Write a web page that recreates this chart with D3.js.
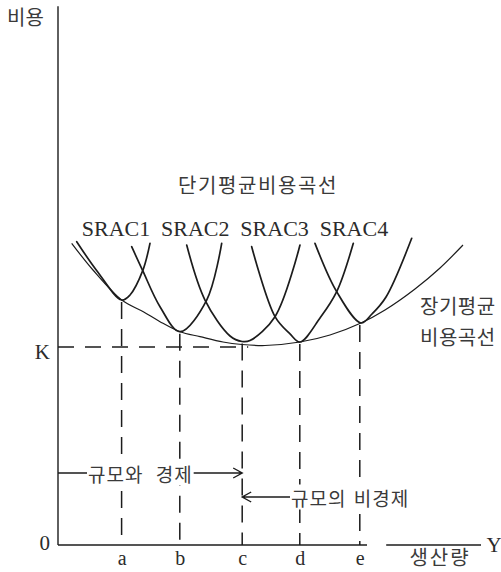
<!DOCTYPE html>
<html><head><meta charset="utf-8">
<script src="https://cdn.jsdelivr.net/npm/d3@7"></script>
<style>
html,body{margin:0;padding:0;background:#fff;}
svg{display:block;}
</style></head><body>
<svg id="chart" width="501" height="572"></svg>
<script>
// Plant sizes marked on the output axis
const outputLabels = ["a", "b", "c", "d", "e"];
const outputLevels = [1.06, 2.03, 3.07, 4.03, 5.03];
// Average cost where each short-run curve touches the envelope
const tangentCosts = [4.083, 3.555, 3.392, 3.383, 3.700];

// Minimum long-run average cost
const minCost = 3.30;
const costTicks = [0, minCost];
const costTickLabels = ["0", "K"];

// Long-run average cost (envelope curve)
const lracOutput = [0.228, 0.583, 1.062, 1.422, 1.700, 2.033, 2.367, 2.750, 3.067, 3.450, 4.033, 4.533, 5.050, 5.450, 5.950, 6.367, 6.750];
const lracCost   = [5.028, 4.583, 4.083, 3.888, 3.722, 3.555, 3.472, 3.383, 3.342, 3.325, 3.383, 3.500, 3.700, 3.917, 4.267, 4.617, 5.000];

// Short-run average cost curves, one per plant size
const srac1Output = [0.312, 0.650, 1.062, 1.200, 1.412, 1.533];
const srac1Cost   = [5.055, 4.567, 4.083, 4.167, 4.572, 5.028];
const srac2Output = [1.228, 1.412, 1.700, 2.033, 2.478, 2.728];
const srac2Cost   = [4.972, 4.572, 3.972, 3.555, 4.083, 5.028];
const srac3Output = [2.145, 2.450, 2.867, 3.067, 3.200, 3.617, 4.033];
const srac3Cost   = [5.000, 4.083, 3.483, 3.392, 3.408, 3.805, 5.000];
const srac4Output = [3.228, 3.617, 3.867, 4.033, 4.367, 4.645, 4.922];
const srac4Cost   = [4.972, 3.805, 3.517, 3.383, 3.783, 4.222, 5.028];
const srac5Output = [4.283, 4.645, 5.050, 5.233, 5.467, 5.895];
const srac5Cost   = [5.028, 4.222, 3.700, 3.850, 4.133, 5.112];

const sracLabels = ["SRAC1", "SRAC2", "SRAC3", "SRAC4"];

const svg = d3.select("#chart");
const ink = "#1c1c1c";
const textInk = "#2b2b2b";
const hangulInk = "#3a3a3a";
const hangul = "'Noto Sans CJK KR', 'Noto Sans', sans-serif";
const serif = "'Liberation Serif', 'DejaVu Serif', serif";

const x = d3.scaleLinear().domain([0, 7]).range([58, 478]);
const y = d3.scaleLinear().domain([0, 9]).range([545, 5]);

const zip = (qs, cs) => qs.map((q, i) => [q, cs[i]]);
const line = d3.line()
  .x(d => x(d[0]))
  .y(d => y(d[1]))
  .curve(d3.curveCatmullRom.alpha(0.5));

// Axes
svg.append("line")
  .attr("x1", x(0)).attr("y1", y(8.98)).attr("x2", x(0)).attr("y2", y(0))
  .attr("stroke", ink).attr("stroke-width", 1.4);
svg.append("line")
  .attr("x1", x(0)).attr("y1", y(0)).attr("x2", x(5.15)).attr("y2", y(0))
  .attr("stroke", ink).attr("stroke-width", 1.4);
svg.append("line")
  .attr("x1", x(5.47)).attr("y1", y(0)).attr("x2", x(7.05)).attr("y2", y(0))
  .attr("stroke", ink).attr("stroke-width", 1.4);

const xAxis = svg.append("g")
  .attr("transform", `translate(0,${y(0)})`)
  .call(d3.axisBottom(x).tickValues(outputLevels)
    .tickFormat((d, i) => outputLabels[i]).tickSize(0).tickPadding(6));
xAxis.select(".domain").remove();
xAxis.selectAll("text")
  .attr("font-family", serif).attr("font-size", 20).attr("fill", textInk);

const yAxis = svg.append("g")
  .attr("transform", `translate(${x(0)},0)`)
  .call(d3.axisLeft(y).tickValues(costTicks)
    .tickFormat((d, i) => costTickLabels[i]).tickSize(0).tickPadding(8));
yAxis.select(".domain").remove();
yAxis.selectAll("text")
  .attr("font-family", serif).attr("font-size", 21).attr("fill", textInk)
  .attr("dy", (d, i) => i === 0 ? "0.22em" : "0.55em");

// Dashed guides: minimum cost level and the plant sizes
svg.append("line")
  .attr("x1", x(0)).attr("y1", y(minCost))
  .attr("x2", x(outputLevels[2]) + 6).attr("y2", y(minCost))
  .attr("stroke", ink).attr("stroke-width", 1.5)
  .attr("stroke-dasharray", "16,11");

svg.append("g").selectAll("line")
  .data(outputLevels)
  .join("line")
  .attr("x1", d => x(d)).attr("x2", d => x(d))
  .attr("y1", (d, i) => y(tangentCosts[i]) + 2)
  .attr("y2", y(0))
  .attr("stroke", ink).attr("stroke-width", 1.5)
  .attr("stroke-dasharray", "17,10");

// Long-run envelope
svg.append("path")
  .attr("d", line(zip(lracOutput, lracCost)))
  .attr("fill", "none").attr("stroke", ink).attr("stroke-width", 1.2);

// Short-run curves
const sracs = [
  zip(srac1Output, srac1Cost),
  zip(srac2Output, srac2Cost),
  zip(srac3Output, srac3Cost),
  zip(srac4Output, srac4Cost),
  zip(srac5Output, srac5Cost)
];
svg.append("g").selectAll("path")
  .data(sracs)
  .join("path")
  .attr("d", d => line(d))
  .attr("fill", "none").attr("stroke", ink).attr("stroke-width", 1.7)
  .attr("stroke-linecap", "round");

// Curve labels
svg.append("g").selectAll("text")
  .data(sracLabels)
  .join("text")
  .attr("x", (d, i) => 116 + i * 79.3)
  .attr("y", 236)
  .attr("text-anchor", "middle")
  .attr("font-family", serif).attr("font-size", 22).attr("fill", textInk)
  .text(d => d);

svg.append("text")
  .attr("x", 258).attr("y", 193)
  .attr("text-anchor", "middle")
  .attr("font-family", hangul).attr("font-size", 20).attr("fill", hangulInk)
  .attr("letter-spacing", 1.6)
  .text("단기평균비용곡선");

svg.append("text")
  .attr("x", 420).attr("y", 314)
  .attr("font-family", hangul).attr("font-size", 20).attr("fill", hangulInk)
  .attr("letter-spacing", 0.5)
  .text("장기평균");
svg.append("text")
  .attr("x", 420).attr("y", 345)
  .attr("font-family", hangul).attr("font-size", 20).attr("fill", hangulInk)
  .attr("letter-spacing", 0.5)
  .text("비용곡선");

// Axis titles
svg.append("text")
  .attr("x", 7).attr("y", 25)
  .attr("font-family", hangul).attr("font-size", 20).attr("fill", hangulInk)
  .text("비용");
svg.append("text")
  .attr("x", 440).attr("y", 565)
  .attr("text-anchor", "middle")
  .attr("font-family", hangul).attr("font-size", 20).attr("fill", hangulInk)
  .attr("letter-spacing", 2)
  .text("생산량");
svg.append("text")
  .attr("x", 494).attr("y", y(0))
  .attr("text-anchor", "middle").attr("dominant-baseline", "central")
  .attr("font-family", serif).attr("font-size", 21).attr("fill", textInk)
  .text("Y");

// Economies / diseconomies of scale arrows
const xc = x(outputLevels[2]);
const ecoY = 473, disY = 497;
const labelLayer = svg.append("g");

function boxedLabel(tx, ty, str, wordSpacing) {
  const bg = labelLayer.append("rect").attr("fill", "#fff");
  const t = labelLayer.append("text")
    .attr("x", tx).attr("y", ty)
    .attr("dominant-baseline", "central")
    .attr("font-family", hangul).attr("font-size", 19).attr("fill", hangulInk)
    .attr("letter-spacing", 1).attr("word-spacing", wordSpacing)
    .text(str);
  const b = t.node().getBBox();
  bg.attr("x", b.x - 1).attr("y", b.y + 1)
    .attr("width", b.width + 2).attr("height", b.height - 2);
  return b;
}

const ecoBox = boxedLabel(88, ecoY, "규모와 경제", 7);
svg.append("path")
  .attr("d", `M${x(0)},${ecoY}H${ecoBox.x - 1}M${ecoBox.x + ecoBox.width + 1},${ecoY}H${xc}` +
             `M${xc - 9},${ecoY - 5}L${xc},${ecoY}L${xc - 9},${ecoY + 5}`)
  .attr("fill", "none").attr("stroke", ink).attr("stroke-width", 1.4);

boxedLabel(291, disY, "규모의 비경제", 2);
svg.append("path")
  .attr("d", `M${xc},${disY}H${290}` +
             `M${xc + 9},${disY - 5}L${xc},${disY}L${xc + 9},${disY + 5}`)
  .attr("fill", "none").attr("stroke", ink).attr("stroke-width", 1.4);
</script>
</body></html>
